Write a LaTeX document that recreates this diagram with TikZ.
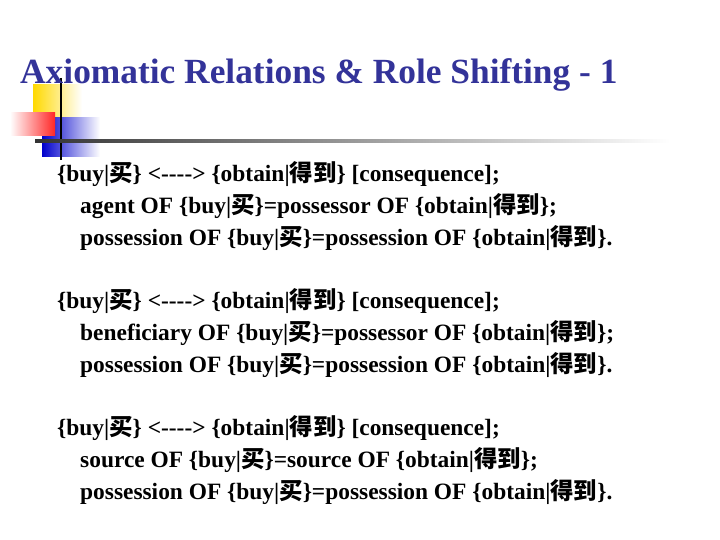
\documentclass[tikz,border=0pt]{standalone}
\usepackage{fontspec}
\setmainfont{Liberation Serif}
\newfontfamily\cjk{Noto Sans CJK SC}
\begin{document}
\begin{tikzpicture}[x=1bp,y=-1bp,
 body/.style={anchor=base west,inner sep=0,font=\fontsize{23.5}{28}\selectfont\bfseries}]
\useasboundingbox (0,0) rectangle (720,540);
\definecolor{ttl}{RGB}{51,51,153}
\fill[left color=yellow!70!orange,right color=white] (33,85) rectangle (82,118);
\fill[left color=blue!80!black,right color=white] (42,118) rectangle (100,157);
\fill[left color=white,right color=red!85] (10,113) rectangle (55,136);
\draw[line width=1.5pt] (61,78) -- (61,160);
\shade[left color=black!80,right color=white] (35,140) rectangle (670,142.5);
\node[anchor=base west,inner sep=0,text=ttl,font=\fontsize{35.5}{40}\selectfont\bfseries] (t) at (20,84) {Axiomatic Relations \& Role Shifting - 1};
\foreach \y/\r/\l [count=\i] in {182/agent/possessor, 308/beneficiary/possessor, 435/source/source}{
 \node[body] (a\i) at (57,\y) {\{buy|{\cjk 买}\} <-{}-{}-{}-> \{obtain|{\cjk 得到}\} [consequence];};
 \node[body] (b\i) at (80,\y+32) {\r\ OF \{buy|{\cjk 买}\}=\l\ OF \{obtain|{\cjk 得到}\};};
 \node[body] (c\i) at (80,\y+64) {possession OF \{buy|{\cjk 买}\}=possession OF \{obtain|{\cjk 得到}\}.};
}
\end{tikzpicture}
\end{document}
